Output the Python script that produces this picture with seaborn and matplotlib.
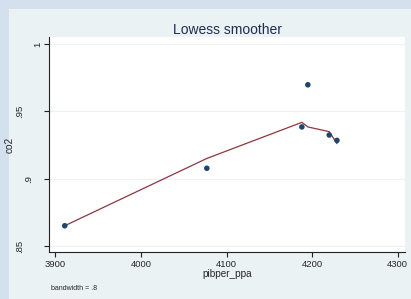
import numpy as np
import pandas as pd
import matplotlib
matplotlib.use("Agg")
import matplotlib.pyplot as plt
import matplotlib.transforms as mtransforms
from matplotlib.patches import Rectangle
import seaborn as sns

# datos
pibper_ppa = [3911, 4077, 4188, 4195, 4220, 4229]
co2 = [0.865, 0.9077, 0.9384, 0.9697, 0.9324, 0.9284]
lowess_fit = [0.865, 0.915, 0.9418, 0.9384, 0.9349, 0.926]

x_ticks = [3900, 4000, 4100, 4200, 4300]
y_ticks = [0.85, 0.9, 0.95, 1.0]
y_labels = [".85", ".9", ".95", "1"]

df = pd.DataFrame({"pibper_ppa": pibper_ppa, "co2": co2, "fit": lowess_fit})

sns.set_style("white")
plt.rcParams["font.family"] = ["Liberation Sans", "DejaVu Sans"]

W, H = 411, 299
fig = plt.figure(figsize=(W / 100, H / 100), dpi=100, facecolor="#d5e0ee")
fig.patches.append(Rectangle((9 / W, 0), 1, 1 - 9 / H, transform=fig.transFigure,
                             facecolor="#eaf2f3", edgecolor="none", zorder=-10))

ax = fig.add_axes([49 / W, (H - 252) / H, (405 - 49) / W, (252 - 37) / H])
ax.set_zorder(5)
ax.set_facecolor("white")

sns.lineplot(data=df, x="pibper_ppa", y="fit", color="#90353b", linewidth=0.9,
             sort=True, ax=ax, zorder=3)
sns.scatterplot(data=df, x="pibper_ppa", y="co2", color="#1a476f", s=16,
                edgecolor="none", ax=ax, zorder=4)

ax.set_xlim(3892.6, 4308.5)
ax.set_ylim(0.8455, 1.0052)
ax.set_xticks(x_ticks)
ax.set_yticks(y_ticks)
ax.set_yticklabels(y_labels, rotation=90, va="center", ha="right")
ax.tick_params(axis="both", direction="out", length=3.5, width=0.8, color="#222222",
               labelsize=6.8, pad=1.5, left=True, bottom=True)
ax.tick_params(axis="x", pad=2)
ax.grid(axis="y", color="#eaf2f3", linewidth=0.8)
ax.set_axisbelow(True)

# etiquetas rotadas desplazadas como en el original
for lab in ax.get_yticklabels():
    shift = -(len(lab.get_text()) - 1) * 6.5
    lab.set_transform(lab.get_transform() +
                      mtransforms.ScaledTranslation(shift / 72, 0, fig.dpi_scale_trans))

for side in ["top", "right"]:
    ax.spines[side].set_visible(False)
for side in ["left", "bottom"]:
    ax.spines[side].set_color("#222222")
    ax.spines[side].set_linewidth(0.8)

ax.set_xlabel("pibper_ppa", fontsize=7.2, labelpad=0)
ax.set_ylabel("co2", fontsize=7.2)
ax.yaxis.set_label_coords((15 - 49) / 356, 0.5)
ax.set_title("Lowess smoother", fontsize=10, color="#1e2d50", pad=2)

fig.text(51 / W, 1 - 288 / H, "bandwidth = .8", fontsize=5, va="center", ha="left")

fig.savefig("out.png", dpi=100, facecolor=fig.get_facecolor())
